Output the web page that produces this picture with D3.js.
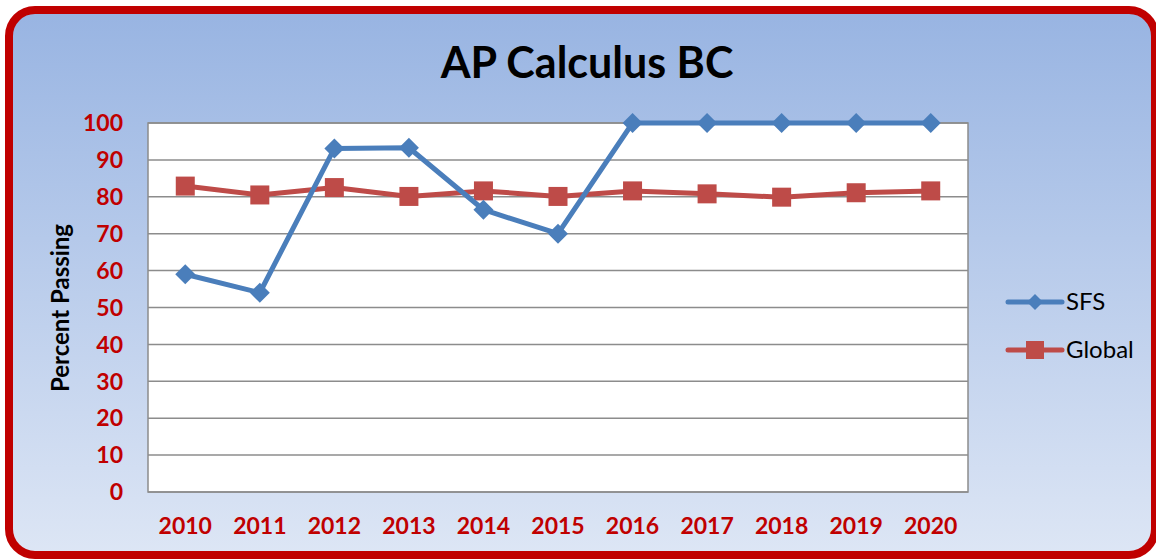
<!DOCTYPE html>
<html>
<head>
<meta charset="utf-8">
<script src="https://cdn.jsdelivr.net/npm/d3@7"></script>
<style>
  body { margin: 0; background: #fff; }
  svg { display: block; font-family: Lato, "Open Sans", sans-serif; }
</style>
</head>
<body>
<div id="chart"></div>
<script>
// Data
var years = ["2010", "2011", "2012", "2013", "2014", "2015", "2016", "2017", "2018", "2019", "2020"];
var sfs = [59, 54, 93.1, 93.3, 76.5, 70, 100, 100, 100, 100, 100];
var global = [82.9, 80.5, 82.5, 80.1, 81.6, 80.1, 81.6, 80.8, 79.9, 81.1, 81.6];
var yTicks = [0, 10, 20, 30, 40, 50, 60, 70, 80, 90, 100];

var W = 1156, H = 559;
var plot = {left: 148, top: 123, right: 968, bottom: 492};

var svg = d3.select("#chart").append("svg")
    .attr("width", W)
    .attr("height", H);

// background gradient
var defs = svg.append("defs");
var grad = defs.append("linearGradient")
    .attr("id", "bg")
    .attr("x1", 0).attr("y1", 0).attr("x2", 0).attr("y2", 1);
grad.append("stop").attr("offset", "0%").attr("stop-color", "#98b4e2");
grad.append("stop").attr("offset", "100%").attr("stop-color", "#dde6f5");

// frame
svg.append("rect")
    .attr("x", 9).attr("y", 10)
    .attr("width", 1146).attr("height", 545)
    .attr("rx", 26).attr("ry", 26)
    .attr("fill", "url(#bg)")
    .attr("stroke", "#c00000")
    .attr("stroke-width", 8);

// Scales
var xScale = d3.scalePoint()
    .domain(years)
    .range([plot.left, plot.right])
    .padding(0.5);

var yScale = d3.scaleLinear()
    .domain([0, 100])
    .range([plot.bottom, plot.top]);

// plot area
svg.append("rect")
    .attr("x", plot.left).attr("y", plot.top)
    .attr("width", plot.right - plot.left)
    .attr("height", plot.bottom - plot.top)
    .attr("fill", "#fff");

// gridlines
svg.append("g")
    .selectAll("line")
    .data(yTicks)
    .join("line")
    .attr("x1", plot.left).attr("x2", plot.right)
    .attr("y1", function (d) { return yScale(d); })
    .attr("y2", function (d) { return yScale(d); })
    .attr("stroke", "#8c8c8c")
    .attr("stroke-width", 1.5);

svg.append("rect")
    .attr("x", plot.left).attr("y", plot.top)
    .attr("width", plot.right - plot.left)
    .attr("height", plot.bottom - plot.top)
    .attr("fill", "none")
    .attr("stroke", "#8c8c8c")
    .attr("stroke-width", 1.5);

// y axis labels
svg.append("g")
    .selectAll("text")
    .data(yTicks)
    .join("text")
    .attr("x", 123)
    .attr("y", function (d) { return yScale(d); })
    .attr("dy", "0.36em")
    .attr("text-anchor", "end")
    .attr("fill", "#c00000")
    .attr("font-weight", "bold")
    .attr("font-size", 23)
    .text(function (d) { return d; });

// x axis labels
svg.append("g")
    .selectAll("text")
    .data(years)
    .join("text")
    .attr("x", function (d) { return xScale(d); })
    .attr("y", 534)
    .attr("text-anchor", "middle")
    .attr("fill", "#c00000")
    .attr("font-weight", "bold")
    .attr("font-size", 23)
    .text(function (d) { return d; });

// title
svg.append("text")
    .attr("x", 587).attr("y", 78)
    .attr("text-anchor", "middle")
    .attr("font-weight", "bold")
    .attr("font-size", 43)
    .attr("fill", "#000")
    .text("AP Calculus BC");

// y axis title
svg.append("text")
    .attr("transform", "translate(69,308) rotate(-90)")
    .attr("text-anchor", "middle")
    .attr("font-weight", "bold")
    .attr("font-size", 24)
    .attr("fill", "#000")
    .text("Percent Passing");

// line generator
var linefunc = d3.line()
    .x(function (d, i) { return xScale(years[i]); })
    .y(function (d) { return yScale(d); });

var blue = "#4a7ebb", red = "#be4b48";
var diamond = "M0,-10L10,0L0,10L-10,0Z";

// Global series
svg.append("path")
    .datum(global)
    .attr("d", linefunc)
    .attr("fill", "none")
    .attr("stroke", red)
    .attr("stroke-width", 5)
    .attr("stroke-linejoin", "round");

svg.append("g")
    .selectAll("rect")
    .data(global)
    .join("rect")
    .attr("x", function (d, i) { return xScale(years[i]) - 9.5; })
    .attr("y", function (d) { return yScale(d) - 9.5; })
    .attr("width", 19).attr("height", 19)
    .attr("fill", red);

// SFS series
svg.append("path")
    .datum(sfs)
    .attr("d", linefunc)
    .attr("fill", "none")
    .attr("stroke", blue)
    .attr("stroke-width", 5)
    .attr("stroke-linejoin", "round");

svg.append("g")
    .selectAll("path")
    .data(sfs)
    .join("path")
    .attr("transform", function (d, i) { return "translate(" + xScale(years[i]) + "," + yScale(d) + ")"; })
    .attr("d", diamond)
    .attr("fill", blue);

// legend
var legend = [
    {name: "SFS", color: blue, y: 302},
    {name: "Global", color: red, y: 350}
];
var lg = svg.append("g").selectAll("g").data(legend).join("g");
lg.append("line")
    .attr("x1", 1008).attr("x2", 1062)
    .attr("y1", function (d) { return d.y; })
    .attr("y2", function (d) { return d.y; })
    .attr("stroke", function (d) { return d.color; })
    .attr("stroke-width", 5)
    .attr("stroke-linecap", "round");
lg.filter(function (d) { return d.name === "SFS"; })
    .append("path")
    .attr("transform", function (d) { return "translate(1035," + d.y + ")"; })
    .attr("d", "M0,-8L8,0L0,8L-8,0Z")
    .attr("fill", blue);
lg.filter(function (d) { return d.name === "Global"; })
    .append("rect")
    .attr("x", 1026).attr("y", function (d) { return d.y - 9; })
    .attr("width", 18).attr("height", 18)
    .attr("fill", red);
lg.append("text")
    .attr("x", 1066)
    .attr("y", function (d) { return d.y; })
    .attr("dy", "0.35em")
    .attr("font-size", 24)
    .attr("fill", "#000")
    .text(function (d) { return d.name; });
</script>
</body>
</html>
